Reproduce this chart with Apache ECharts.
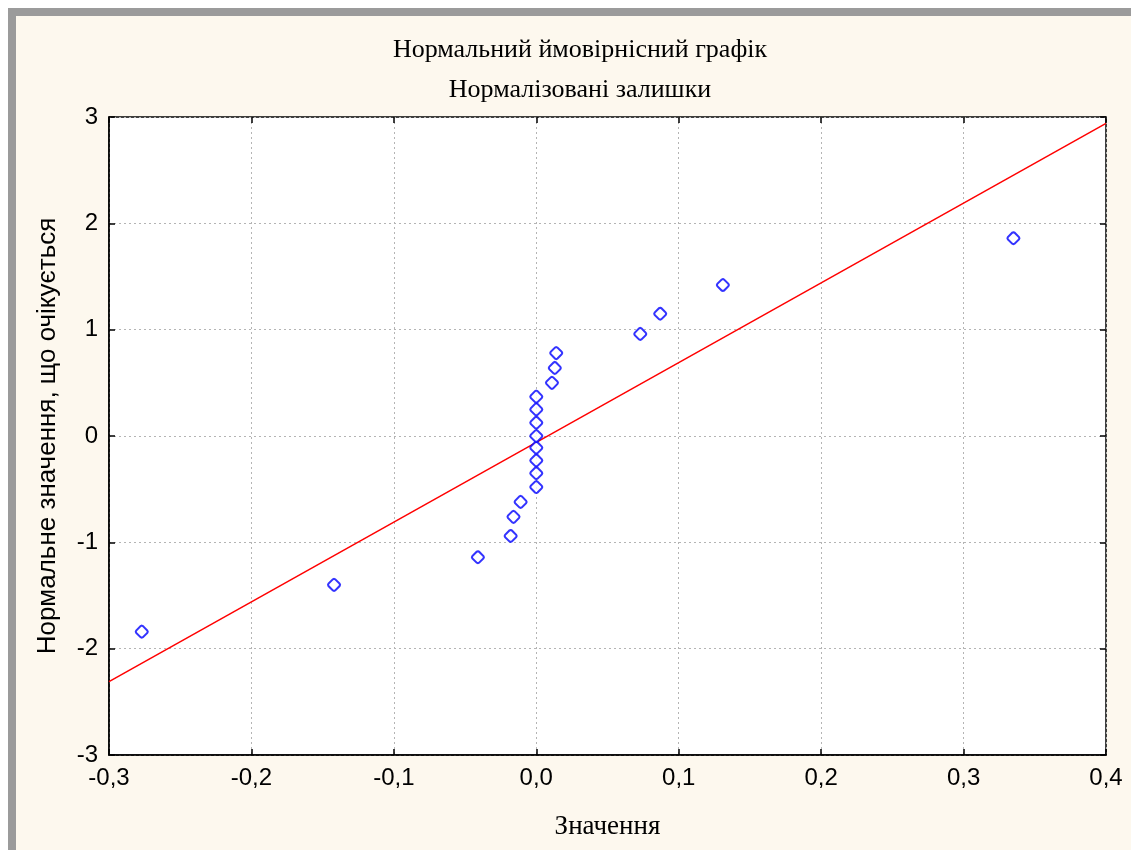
<!DOCTYPE html>
<html>
<head>
<meta charset="utf-8">
<script src="https://cdn.jsdelivr.net/npm/echarts@6/dist/echarts.min.js"></script>
<style>
  html, body { margin: 0; padding: 0; background: #fff; }
  #frame { position: absolute; left: 8px; top: 8px; width: 1123px; height: 842px;
    border-left: 8px solid #9b9b9b; border-top: 8px solid #9b9b9b; box-sizing: border-box; }
  #chart { position: absolute; left: 16px; top: 16px; width: 1115px; height: 834px; background: #fdf8ee; }
</style>
</head>
<body>
<div id="frame"></div>
<div id="chart"></div>
<script>
// residuals (x) vs expected normal values (y)
const residX = [-0.277, -0.142, -0.041, -0.018, -0.016, -0.011,
  0, 0, 0, 0, 0, 0, 0, 0,
  0.011, 0.013, 0.014, 0.073, 0.087, 0.131, 0.335]
const expectedY = [-1.84, -1.40, -1.14, -0.94, -0.76, -0.62,
  -0.48, -0.35, -0.23, -0.11, 0, 0.125, 0.25, 0.37,
  0.50, 0.64, 0.78, 0.96, 1.15, 1.42, 1.86]
// fitted reference line endpoints
const fitX = [-0.3, 0.4]
const fitY = [-2.31, 2.94]

const titleLines = ['Нормальний ймовірнісний графік', 'Нормалізовані залишки']
const xName = 'Значення'
const yName = 'Нормальне значення, що очікується'

const fmtComma = v => Math.abs(v) < 1e-9 ? '0,0' : v.toFixed(1).replace('.', ',')

const serif = '"Liberation Serif", "DejaVu Serif", serif'
const sans = '"Liberation Sans", Arial, sans-serif'
// rounded diamond marker
const marker = 'path://M5,0 L6,0.4 L9.6,4 L10,5 L9.6,6 L6,9.6 L5,10 L4,9.6 L0.4,6 L0,5 L0.4,4 L4,0.4 Z'

const chart = echarts.init(document.getElementById('chart'))

const gridLine = { show: true, lineStyle: { color: '#b4b4b4', type: [2, 3], width: 1 } }
const tickIn = { show: true, inside: true, length: 6, lineStyle: { color: '#000', width: 1.5 } }
const titleFont = { fontFamily: serif, fontSize: 26, fontWeight: 'normal', color: '#000' }

chart.setOption({
  animation: false,
  backgroundColor: 'transparent',
  title: [
    { text: titleLines[0], left: 559, top: 16, textAlign: 'center', textStyle: titleFont },
    { text: titleLines[1], left: 559, top: 56, textAlign: 'center', textStyle: titleFont },
  ],
  grid: { left: 93, top: 101, right: 25, bottom: 95, show: true, backgroundColor: '#fff',
    borderColor: '#000', borderWidth: 1.5 },
  xAxis: [
    { type: 'value', min: -0.3, max: 0.4, interval: 0.1, position: 'bottom',
      name: xName, nameLocation: 'middle', nameGap: 58,
      nameTextStyle: { fontFamily: serif, fontSize: 27, color: '#000' },
      axisLine: { show: true, onZero: false, lineStyle: { color: '#000', width: 1.5 } },
      axisTick: tickIn,
      axisLabel: { fontFamily: sans, fontSize: 24, color: '#000', margin: 11, formatter: fmtComma },
      splitLine: gridLine },
    { type: 'value', min: -0.3, max: 0.4, interval: 0.1, position: 'top',
      axisLine: { show: false, onZero: false }, axisTick: tickIn, axisLabel: { show: false }, splitLine: { show: false } },
  ],
  yAxis: [
    { type: 'value', min: -3, max: 3, interval: 1, position: 'left',
      name: yName, nameLocation: 'middle', nameGap: 48,
      nameTextStyle: { fontFamily: sans, fontSize: 26, color: '#000' },
      axisLine: { show: true, onZero: false, lineStyle: { color: '#000', width: 1.5 } },
      axisTick: tickIn,
      axisLabel: { fontFamily: sans, fontSize: 24, color: '#000', margin: 11 },
      splitLine: gridLine },
    { type: 'value', min: -3, max: 3, interval: 1, position: 'right',
      axisLine: { show: false, onZero: false }, axisTick: tickIn, axisLabel: { show: false }, splitLine: { show: false } },
  ],
  series: [
    { type: 'line', data: fitX.map((x, i) => [x, fitY[i]]), symbol: 'none',
      lineStyle: { color: '#ff0000', width: 1.5 }, z: 2 },
    { type: 'scatter', data: residX.map((x, i) => [x, expectedY[i]]),
      symbol: marker, symbolSize: 12,
      itemStyle: { color: '#fff', borderColor: '#0000ff', borderWidth: 2 }, z: 3 },
  ],
})
</script>
</body>
</html>
